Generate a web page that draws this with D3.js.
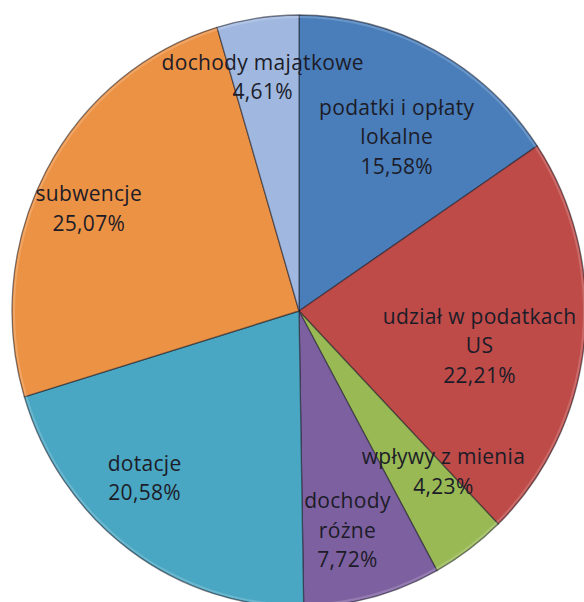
<!DOCTYPE html>
<html lang="pl">
<head>
	<meta charset="UTF-8">
	<title>Dochody</title>
	<script src="https://cdn.jsdelivr.net/npm/d3@7/dist/d3.min.js"></script>
	<style>
		body { margin: 0; background: #fff; }
	</style>
</head>
<body>
	<div id="container"></div>
	<script>
		// kategorie i udzialy (%), kolejnosc zgodnie z ruchem wskazowek od godziny 12
		var categories = [
			["podatki i opłaty", "lokalne"],
			["udział w podatkach", "US"],
			["wpływy z mienia"],
			["dochody", "różne"],
			["dotacje"],
			["subwencje"],
			["dochody majątkowe"]
		];
		var values = [15.58, 22.21, 4.23, 7.72, 20.58, 25.07, 4.61];
		var valueLabels = ["15,58%", "22,21%", "4,23%", "7,72%", "20,58%", "25,07%", "4,61%"];

		var colors = ["#4a7ebb", "#be4b48", "#98b954", "#7d60a0", "#4aa7c3", "#ec9244", "#a0b8e0"];

		// przesuniecie etykiety: [kat wzgledem srodka wycinka (st.), promien jako czesc R]
		var labelNudge = [[2, 0.68], [4.5, 0.64], [-6.5, 0.74], [2, 0.76], [7.5, 0.78], [-3, 0.81], [-0.8, 0.80]];

		var width = 584;
		var height = 602;
		var cx = 299, cy = 311;
		var rx = 287, ry = 296;

		var svg = d3.select("#container").append("svg")
				.attr("width", width)
				.attr("height", height);

		var data = values.map((v, i) => ({name: categories[i], value: v, label: valueLabels[i]}));

		var pie = d3.pie()
				.value(d => d.value)
				.sort(null);

		var arcs = pie(data);

		var arc = d3.arc()
				.innerRadius(0)
				.outerRadius(rx);

		var g = svg.append("g")
				.attr("transform", "translate(" + cx + "," + cy + ") scale(1," + (ry / rx) + ")");

		g.selectAll(".slice").data(arcs)
			.enter().append("path")
				.attr("class", "slice")
				.attr("d", arc)
				.attr("fill", (d, i) => colors[i])
				.attr("stroke", "rgba(30,30,40,0.55)")
				.attr("stroke-width", 1.3)
				.attr("stroke-linejoin", "round");

		// jasna krawedz u gory wycinkow (efekt wypuklenia)
		var rim = d3.arc()
				.innerRadius(rx - 3)
				.outerRadius(rx - 1);
		g.selectAll(".rim").data(arcs)
			.enter().append("path")
				.attr("class", "rim")
				.attr("d", rim)
				.attr("fill", "rgba(255,255,255,0.18)");

		var lineH = 29.5;
		var labels = svg.selectAll(".lbl").data(arcs)
			.enter().append("text")
				.attr("class", "lbl")
				.attr("text-anchor", "middle")
				.attr("font-family", "'Open Sans', sans-serif")
				.attr("font-size", 21)
				.attr("letter-spacing", 0.3)
				.attr("fill", "#1c1c28")
				.attr("transform", (d, i) => {
					var a = (d.startAngle + d.endAngle) / 2 + labelNudge[i][0] * Math.PI / 180;
					var r = labelNudge[i][1];
					var x = cx + Math.sin(a) * rx * r;
					var y = cy - Math.cos(a) * ry * r;
					return "translate(" + x + "," + y + ")";
				});

		labels.each(function(d, i) {
			var lines = d.data.name.concat([d.data.label]);
			var t = d3.select(this);
			var y0 = -(lines.length - 1) * lineH / 2;
			lines.forEach((s, j) => {
				t.append("tspan")
					.attr("x", 0)
					.attr("y", y0 + j * lineH)
					.attr("dy", "0.35em")
					.text(s);
			});
		});
	</script>
</body>
</html>
